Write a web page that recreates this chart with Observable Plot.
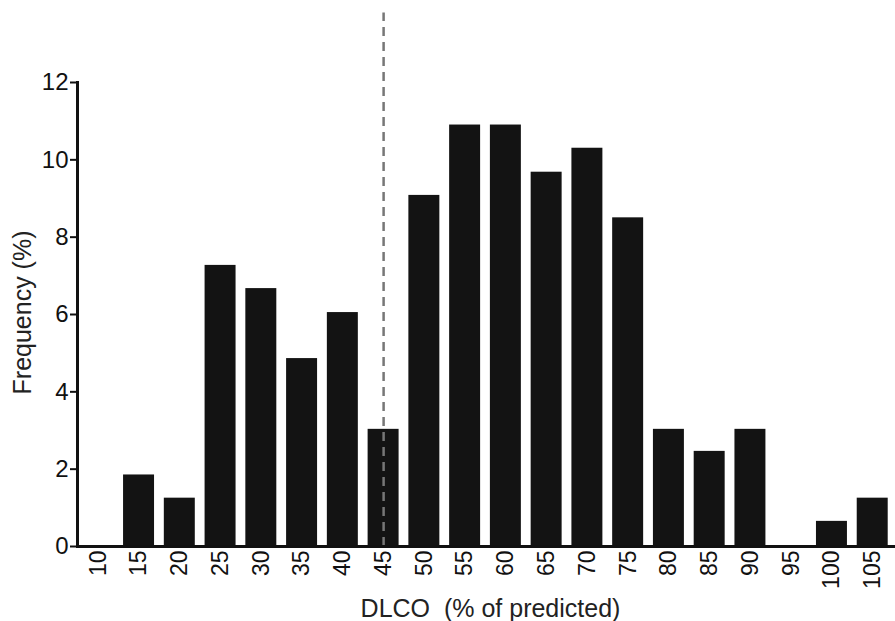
<!DOCTYPE html>
<html>
<head>
<meta charset="utf-8">
<script src="https://cdn.jsdelivr.net/npm/d3@7"></script>
<script src="https://cdn.jsdelivr.net/npm/@observablehq/plot@0.6"></script>
<style>
  html, body { margin: 0; padding: 0; background: #fff; }
  svg { font-family: "Liberation Sans", Arial, sans-serif; }
</style>
</head>
<body>
<div id="chart"></div>
<script>
const categories = ["10","15","20","25","30","35","40","45","50","55","60","65","70","75","80","85","90","95","100","105"];
const frequency = [0, 1.85, 1.25, 7.27, 6.67, 4.86, 6.05, 3.03, 9.08, 10.9, 10.9, 9.68, 10.3, 8.5, 3.03, 2.46, 3.03, 0, 0.65, 1.25];
const yTicks = [0, 2, 4, 6, 8, 10, 12];
const cutoff = "45";
const xLabel = "DLCO  (% of predicted)";
const yLabel = "Frequency (%)";

const data = categories.map((c, i) => ({dlco: c, freq: frequency[i]}));

const chart = Plot.plot({
  width: 895,
  height: 621,
  marginLeft: 77,
  marginRight: 0,
  marginTop: 82,
  marginBottom: 75,
  style: {fontFamily: "'Liberation Sans', Arial, sans-serif", background: "#fff"},
  x: {domain: categories, paddingInner: 0.24, paddingOuter: 0.13, insetRight: 2, round: false},
  y: {domain: [0, 12]},
  marks: [
    Plot.barY(data, {x: "dlco", y: "freq", fill: "#131313"}),
    Plot.ruleX([cutoff], {x: d => d, y1: 0, y2: 13.8, stroke: "#777", strokeWidth: 2.5, strokeDasharray: "9,6"}),
    Plot.ruleY([0], {stroke: "#111", strokeWidth: 3}),
    Plot.frame({anchor: "left", stroke: "#111", strokeWidth: 3}),
    Plot.axisY({ticks: yTicks, tickSize: 7, tickPadding: 2, strokeWidth: 2, fontSize: 24, label: null, color: "#111"}),
    Plot.axisX({tickSize: 0, tickPadding: 4, tickRotate: -90, fontSize: 23, label: null, color: "#111"}),
    Plot.text([xLabel], {frameAnchor: "bottom", dx: 4, dy: 62, lineAnchor: "middle", fontSize: 25, fill: "#222"}),
    Plot.text([yLabel], {frameAnchor: "left", dx: -55, dy: -2, rotate: -90, textAnchor: "middle", lineAnchor: "middle", fontSize: 25, fill: "#222"})
  ]
});
document.getElementById("chart").appendChild(chart);
</script>
</body>
</html>
